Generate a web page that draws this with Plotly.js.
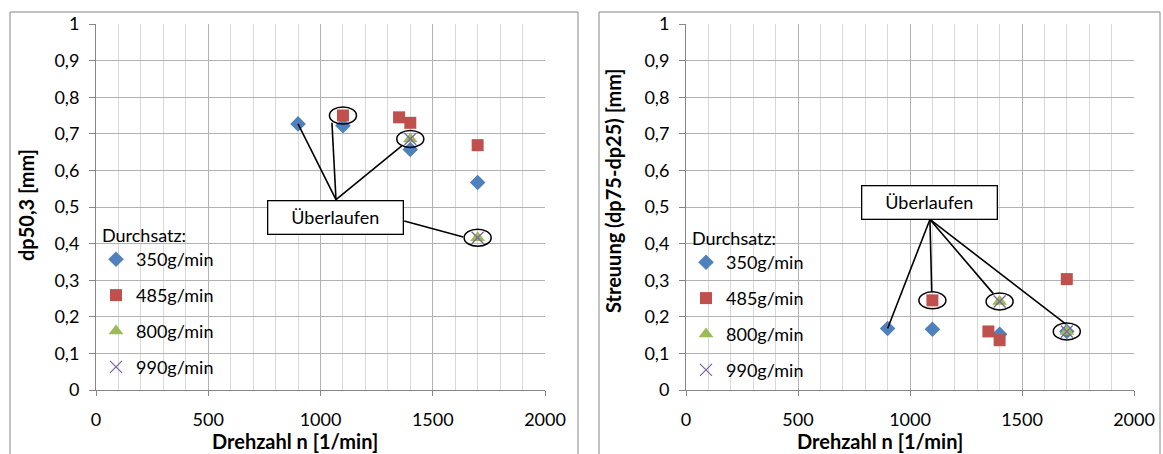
<!DOCTYPE html>
<html><head><meta charset="utf-8">
<script src="https://cdn.plot.ly/plotly-3.0.1.min.js"></script>
<style>html,body{margin:0;padding:0;background:#fff}#chart{width:1163px;height:454px}</style>
</head><body><div id="chart"></div>
<script>
// ---- data ----
const seriesNames = ['350g/min', '485g/min', '800g/min', '990g/min'];
const legendTitle = 'Durchsatz:';
const xTitle = 'Drehzahl n [1/min]';
const yTitleLeft = 'dp50,3 [mm]';
const yTitleRight = 'Streuung (dp75-dp25) [mm]';
const overflowLabel = 'Überlaufen';

// left chart: dp50,3
const x350L = [900, 1100, 1400, 1700];
const y350L = [0.727, 0.722, 0.657, 0.567];
const x485L = [1100, 1350, 1400, 1700];
const y485L = [0.75, 0.745, 0.73, 0.669];
const x800L = [1400, 1700];
const y800L = [0.686, 0.416];
const x990L = [1400, 1700];
const y990L = [0.686, 0.416];

// right chart: Streuung
const x350R = [900, 1100, 1400, 1700];
const y350R = [0.168, 0.166, 0.152, 0.16];
const x485R = [1100, 1350, 1400, 1700];
const y485R = [0.245, 0.16, 0.136, 0.303];
const x800R = [1400, 1700];
const y800R = [0.242, 0.16];
const x990R = [1400, 1700];
const y990R = [0.242, 0.16];

// circled points ("Überlaufen")
const circLx = [1100, 1400, 1700];
const circLy = [0.75, 0.686, 0.416];
const circRx = [1100, 1400, 1700];
const circRy = [0.245, 0.242, 0.16];
// label anchor and leader line ends
const labelL = [1069, 0.47];
const labelR = [1089, 0.511];
const leaderLfrom = [[1069, 0.52], [1069, 0.52], [1069, 0.52], [1373, 0.462]];
const leaderLto = [[900, 0.727], [1051, 0.73], [1362, 0.667], [1636, 0.418]];
const leaderRfrom = [[1089, 0.466], [1089, 0.466], [1089, 0.466], [1089, 0.466]];
const leaderRto = [[900, 0.168], [1097, 0.268], [1371, 0.264], [1696, 0.18]];

// ---- styles ----
const FONT = 'Lato, "Open Sans", sans-serif';
const colors = ['#4F81BD', '#C0504D', '#9BBB59', '#8064A2'];
const markers = [
  {symbol: 'diamond', size: 12, color: colors[0]},
  {symbol: 'square', size: 12, color: colors[1]},
  {symbol: 'triangle-up', size: 13, color: colors[2]},
  {symbol: 'x-thin', size: 12, color: colors[3], line: {color: colors[3], width: 1.3}}
];

function mk(x, y, i, side) {
  return {
    x: x, y: y, type: 'scatter', mode: 'markers', name: seriesNames[i],
    marker: markers[i],
    xaxis: side === 'L' ? 'x' : 'x2', yaxis: side === 'L' ? 'y' : 'y2',
    legend: side === 'L' ? 'legend' : 'legend2',
    legendgroup: side + i, hoverinfo: 'x+y'
  };
}
const traces = [
  mk(x350L, y350L, 0, 'L'), mk(x485L, y485L, 1, 'L'), mk(x800L, y800L, 2, 'L'), mk(x990L, y990L, 3, 'L'),
  mk(x350R, y350R, 0, 'R'), mk(x485R, y485R, 1, 'R'), mk(x800R, y800R, 2, 'R'), mk(x990R, y990R, 3, 'R')
];

const W = 1163, H = 454;
const yDom = [(H - 390) / H, (H - 24) / H];
function xAxis(dom, anchor) {
  return {
    domain: dom, anchor: anchor, range: [0, 2000], tick0: 0, dtick: 500,
    showline: true, linecolor: '#868686', linewidth: 1,
    ticks: 'outside', ticklen: 5, tickcolor: '#868686', ticklabelstandoff: 8,
    showgrid: true, gridcolor: '#b2b2b2', gridwidth: 1, zeroline: false,
    minor: {dtick: 100, showgrid: true, gridcolor: '#d9d9d9', ticks: ''},
    tickfont: {family: FONT, size: 18, color: '#000'},
    fixedrange: true
  };
}
function yAxis(anchor) {
  return {
    domain: yDom, anchor: anchor, range: [0, 1], tick0: 0, dtick: 0.1,
    showline: true, linecolor: '#868686', linewidth: 1,
    ticks: 'outside', ticklen: 6, tickcolor: '#868686', ticklabelstandoff: 6,
    showgrid: true, gridcolor: '#b2b2b2', gridwidth: 1, zeroline: false,
    tickfont: {family: FONT, size: 18, color: '#000'},
    fixedrange: true
  };
}

const shapes = [
  {type: 'rect', xref: 'paper', yref: 'paper', x0: 10 / W, x1: 578 / W, y0: -0.05, y1: (H - 12) / H,
   line: {color: '#868686', width: 1}, fillcolor: 'rgba(0,0,0,0)', layer: 'below'},
  {type: 'rect', xref: 'paper', yref: 'paper', x0: 599 / W, x1: 1160 / W, y0: -0.05, y1: (H - 12) / H,
   line: {color: '#868686', width: 1}, fillcolor: 'rgba(0,0,0,0)', layer: 'below'}
];
function addCircles(xs, ys, xr, yr) {
  xs.forEach((x, i) => shapes.push({
    type: 'circle', xref: xr, yref: yr, xsizemode: 'pixel', ysizemode: 'pixel',
    xanchor: x, yanchor: ys[i], x0: -13.5, x1: 13.5, y0: -8.5, y1: 8.5,
    line: {color: '#000', width: 1.5}, fillcolor: 'rgba(0,0,0,0)'
  }));
}
function addLeaders(from, to, xr, yr) {
  from.forEach((f, i) => shapes.push({
    type: 'line', xref: xr, yref: yr, x0: f[0], y0: f[1], x1: to[i][0], y1: to[i][1],
    line: {color: '#000', width: 1.6}
  }));
}
addLeaders(leaderLfrom, leaderLto, 'x', 'y');
addLeaders(leaderRfrom, leaderRto, 'x2', 'y2');
addCircles(circLx, circLy, 'x', 'y');
addCircles(circRx, circRy, 'x2', 'y2');

const TFONT = {family: FONT, size: 20, color: '#000'};
function pa(xpx, ypx, text, extra) {
  return Object.assign({xref: 'paper', yref: 'paper', x: xpx / W, y: (H - ypx) / H,
    xanchor: 'center', yanchor: 'middle',
    text: text, showarrow: false, font: TFONT}, extra || {});
}
const annotations = [
  {xref: 'x', yref: 'y', x: labelL[0], y: labelL[1], text: overflowLabel, showarrow: false,
   width: 134, height: 32, borderpad: 0, bordercolor: '#000', borderwidth: 1.3, bgcolor: '#fff',
   font: {family: FONT, size: 18, color: '#000'}},
  {xref: 'x2', yref: 'y2', x: labelR[0], y: labelR[1], text: overflowLabel, showarrow: false,
   width: 134, height: 32, borderpad: 0, bordercolor: '#000', borderwidth: 1.3, bgcolor: '#fff',
   font: {family: FONT, size: 18, color: '#000'}},
  // axis titles
  pa(295.5, 441, '<b>' + xTitle + '</b>'),
  pa(880, 441, '<b>' + xTitle + '</b>'),
  pa(26, 205, '<b>' + yTitleLeft + '</b>', {textangle: -90}),
  pa(613, 191, '<b>' + yTitleRight + '</b>', {textangle: -90}),
  // legend headings
  pa(100, 235, legendTitle, {xanchor: 'left', font: {family: FONT, size: 18, color: '#000'}}),
  pa(690, 238, legendTitle, {xanchor: 'left', font: {family: FONT, size: 18, color: '#000'}})
];

function legendCfg(xpx, ypx) {
  return {
    x: xpx / W, y: (H - ypx) / H, xanchor: 'left', yanchor: 'top',
    bgcolor: 'rgba(0,0,0,0)', borderwidth: 0,
    font: {family: FONT, size: 18, color: '#000'},
    traceorder: 'grouped', tracegroupgap: 9.5, itemclick: false, itemdoubleclick: false
  };
}

const layout = {
  width: W, height: H, margin: {l: 0, r: 0, t: 0, b: 0},
  paper_bgcolor: '#fff', plot_bgcolor: 'rgba(0,0,0,0)',
  separators: ',.',
  font: {family: FONT, size: 18, color: '#000'},
  showlegend: true,
  xaxis: xAxis([96 / W, 545 / W], 'y'),
  yaxis: yAxis('x'),
  xaxis2: xAxis([686 / W, 1134 / W], 'y2'),
  yaxis2: yAxis('x2'),
  legend: legendCfg(96, 241),
  legend2: legendCfg(686, 244),
  shapes: shapes,
  annotations: annotations
};

Plotly.newPlot('chart', traces, layout, {displayModeBar: false, staticPlot: true});
</script>
</body></html>
